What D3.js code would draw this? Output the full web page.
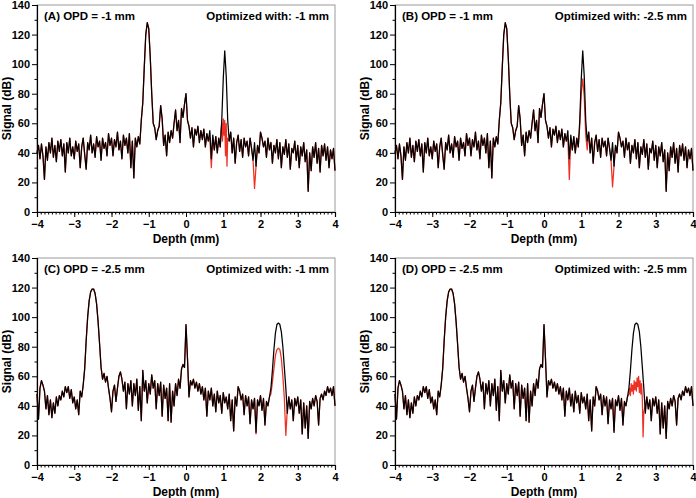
<!DOCTYPE html>
<html>
<head>
<meta charset="utf-8">
<script src="https://cdn.jsdelivr.net/npm/d3@7/dist/d3.min.js"></script>
<style>
  html, body { margin: 0; padding: 0; background: #fff; }
  svg { display: block; font-family: "Liberation Sans", Arial, sans-serif; }
  .tick text { font-size: 11px; font-weight: bold; fill: #000; }
  .axis-title { font-size: 12px; font-weight: bold; }
  .panel-label { font-size: 11.5px; font-weight: bold; }
</style>
</head>
<body>
<div id="chart"></div>
<script>
// depth grid of the traces (mm)
const DEPTH_START = -4;
const DEPTH_STEP = 0.04;

// black trace, sample at OPD = -1 mm (panels A and B)
const signalOpd1 = [
  40, 45, 36, 46, 38, 22, 44, 35, 47, 40, 50, 37, 45, 34, 48, 41, 49, 38, 46, 27,
  47, 40, 50, 38, 44, 36, 48, 41, 46, 30, 44, 50, 39, 29, 47, 42, 52, 40, 46, 37,
  51, 44, 48, 35, 50, 43, 47, 38, 53, 45, 50, 38, 49, 44, 54, 42, 48, 36, 52, 45,
  50, 40, 53, 30, 48, 23, 50, 44, 51, 46, 62, 74, 98, 120, 128, 124, 105, 80, 60, 57,
  49, 55, 58, 72, 63, 45, 52, 38, 54, 47, 55, 50, 60, 69, 55, 62, 47, 70, 64, 73,
  80, 62, 58, 50, 57, 44, 56, 52, 58, 47, 55, 49, 56, 44, 53, 48, 55, 36, 52, 42,
  51, 40, 50, 44, 62, 90, 109, 92, 62, 48, 54, 40, 50, 33, 47, 52, 41, 49, 37, 50,
  44, 48, 38, 50, 43, 35, 47, 31, 45, 40, 54, 50, 44, 48, 37, 50, 42, 47, 33, 45,
  40, 49, 36, 47, 30, 44, 39, 49, 37, 46, 29, 43, 40, 48, 35, 45, 30, 44, 38, 47,
  34, 42, 14, 40, 28, 44, 37, 47, 33, 43, 27, 45, 38, 46, 35, 44, 30, 42, 36, 43,
  28
];

// black trace, sample at OPD = -2.5 mm (panels C and D)
const signalOpd25 = [
  48, 31, 52, 57, 54, 50, 38, 47, 34, 44, 32, 42, 35, 46, 40, 47, 44, 50, 46, 53,
  49, 53, 45, 51, 42, 46, 38, 44, 34, 50, 46, 54, 65, 84, 100, 111, 117, 119, 119, 116,
  109, 97, 82, 66, 58, 62, 56, 60, 52, 45, 36, 50, 54, 43, 52, 60, 63, 58, 50, 56,
  38, 55, 48, 57, 40, 55, 47, 58, 37, 53, 30, 64, 50, 57, 42, 55, 48, 61, 52, 57,
  38, 55, 47, 56, 33, 54, 45, 52, 30, 55, 29, 50, 40, 55, 47, 58, 52, 65, 68, 66,
  95, 72, 46, 57, 54, 58, 52, 56, 50, 55, 48, 53, 44, 52, 33, 50, 44, 52, 40, 48,
  36, 50, 42, 47, 35, 49, 42, 46, 38, 48, 30, 44, 23, 46, 40, 53, 50, 44, 48, 34,
  47, 40, 46, 28, 44, 38, 45, 22, 44, 40, 47, 37, 45, 27, 43, 40, 46, 52, 64, 78,
  89, 95, 96, 95, 90, 80, 66, 52, 35, 46, 38, 44, 30, 45, 40, 46, 35, 44, 21, 42,
  25, 40, 18, 43, 38, 45, 40, 47, 43, 27, 45, 48, 44, 50, 47, 53, 49, 52, 47, 53,
  40
];

// red trace: points where it leaves the black one [depth, dB]
const redOptA = [
  [0.64, 50], [0.68, 30], [0.72, 50],
  [0.92, 44], [0.94, 55], [0.96, 60], [0.98, 48], [1.00, 63], [1.02, 52], [1.04, 62],
  [1.06, 38], [1.08, 60], [1.10, 31], [1.12, 50], [1.16, 48],
  [1.80, 35], [1.84, 16], [1.88, 31]
];
const redOptB = [
  [0.64, 50], [0.68, 22], [0.72, 50],
  [0.92, 44], [0.96, 58], [1.00, 80], [1.04, 90], [1.08, 78], [1.12, 52], [1.16, 42],
  [1.80, 35], [1.84, 17], [1.88, 31]
];
const redOptC = [
  [1.84, 45], [1.88, 21], [1.92, 44],
  [2.24, 46], [2.28, 48], [2.32, 56], [2.36, 65], [2.40, 74], [2.44, 78], [2.48, 79],
  [2.52, 78], [2.56, 72], [2.60, 60], [2.64, 45], [2.68, 20], [2.72, 38]
];
const redOptD = [
  [1.84, 45], [1.88, 23], [1.92, 44],
  [2.24, 46], [2.28, 48], [2.30, 52], [2.32, 47], [2.34, 55], [2.36, 50], [2.38, 54],
  [2.40, 48], [2.42, 57], [2.44, 51], [2.46, 56], [2.48, 50], [2.50, 59], [2.52, 53],
  [2.54, 60], [2.56, 49], [2.58, 57], [2.60, 48], [2.62, 55], [2.64, 44], [2.66, 19],
  [2.68, 36], [2.72, 40]
];

const yTicks = [0, 20, 40, 60, 80, 100, 120, 140];
const xTicks = [-4, -3, -2, -1, 0, 1, 2, 3, 4];

const panels = [
  { label: "(A) OPD = -1 mm", opt: "Optimized with: -1 mm", black: signalOpd1, red: redOptA, left: 37, top: 5 },
  { label: "(B) OPD = -1 mm", opt: "Optimized with: -2.5 mm", black: signalOpd1, red: redOptB, left: 395, top: 5 },
  { label: "(C) OPD = -2.5 mm", opt: "Optimized with: -1 mm", black: signalOpd25, red: redOptC, left: 37, top: 258 },
  { label: "(D) OPD = -2.5 mm", opt: "Optimized with: -2.5 mm", black: signalOpd25, red: redOptD, left: 395, top: 258 }
];

const W = 696, H = 498;
const plotW = 298, plotH = 207;

const svg = d3.select("#chart").append("svg").attr("width", W).attr("height", H);

function toPoints(values) {
  return values.map((v, i) => [DEPTH_START + i * DEPTH_STEP, v]);
}

// red = black, except inside the spans covered by its own points
function mergeRed(black, patch) {
  const groups = [];
  let cur = [patch[0]];
  for (let k = 1; k < patch.length; k++) {
    if (patch[k][0] - patch[k - 1][0] > 0.1) { groups.push(cur); cur = []; }
    cur.push(patch[k]);
  }
  groups.push(cur);
  const inside = (x) => groups.some((g) => x >= g[0][0] - 1e-6 && x <= g[g.length - 1][0] + 1e-6);
  return black.filter((p) => !inside(p[0])).concat(patch).sort((a, b) => a[0] - b[0]);
}

panels.forEach((p) => {
  const x = d3.scaleLinear().domain([-4, 4]).range([0, plotW]);
  const y = d3.scaleLinear().domain([0, 140]).range([plotH, 0]);
  const g = svg.append("g").attr("transform", `translate(${p.left},${p.top})`);

  g.append("rect").attr("width", plotW).attr("height", plotH)
    .attr("fill", "none").attr("stroke", "#9a9a9a").attr("stroke-width", 1);

  const line = d3.line().x((d) => x(d[0])).y((d) => y(d[1]));
  const blackPts = toPoints(p.black);
  const redPts = mergeRed(blackPts, p.red);

  g.append("path").datum(redPts).attr("d", line)
    .attr("fill", "none").attr("stroke", "#ee3124").attr("stroke-width", 1.25)
    .attr("stroke-linejoin", "round");
  g.append("path").datum(blackPts).attr("d", line)
    .attr("fill", "none").attr("stroke", "#000").attr("stroke-width", 1.25)
    .attr("stroke-linejoin", "round");

  // minor ticks
  const xAxisMinor = d3.axisBottom(x).tickValues(d3.range(-40, 41).map((v) => v / 10))
    .tickSize(2.5).tickFormat("");
  g.append("g").attr("transform", `translate(0,${plotH})`).call(xAxisMinor)
    .call((s) => s.select(".domain").remove());
  const yAxisMinor = d3.axisLeft(y).tickValues(d3.range(10, 140, 20)).tickSize(2.5).tickFormat("");
  g.append("g").call(yAxisMinor).call((s) => s.select(".domain").remove());

  // major axes
  const xAxis = d3.axisBottom(x).tickValues(xTicks).tickSize(5).tickPadding(3);
  g.append("g").attr("transform", `translate(0,${plotH})`).call(xAxis);
  const yAxis = d3.axisLeft(y).tickValues(yTicks).tickSize(5).tickPadding(2);
  g.append("g").call(yAxis);

  g.selectAll(".domain").attr("stroke", "#000").attr("stroke-width", 1.2);
  g.selectAll(".tick line").attr("stroke", "#000");

  g.append("text").attr("class", "axis-title")
    .attr("x", plotW / 2).attr("y", plotH + 31).attr("text-anchor", "middle").text("Depth (mm)");
  g.append("text").attr("class", "axis-title")
    .attr("transform", `translate(-26,${plotH / 2}) rotate(-90)`)
    .attr("text-anchor", "middle").text("Signal (dB)");

  g.append("text").attr("class", "panel-label").attr("x", 7).attr("y", 15).text(p.label);
  g.append("text").attr("class", "panel-label").attr("x", plotW - 6).attr("y", 15)
    .attr("text-anchor", "end").text(p.opt);
});
</script>
</body>
</html>
